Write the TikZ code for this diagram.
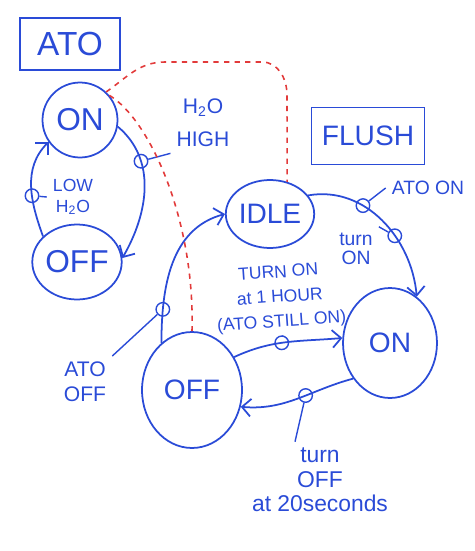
\documentclass[tikz,border=0pt]{standalone}
\usepackage{fontspec}
\setmainfont{Liberation Sans}
\usetikzlibrary{shapes.geometric,arrows.meta}
\definecolor{azulTinta}{HTML}{2A4BD7}
\definecolor{rojoGuia}{HTML}{E23A3A}

\begin{document}
\begin{tikzpicture}[x=0.02cm,y=-0.02cm,
    estado/.style={draw=azulTinta,ellipse,line width=1pt,text=azulTinta,inner sep=0pt,font=\fontsize{16}{18}\selectfont},
    titulo/.style={draw=azulTinta,line width=1pt,text=azulTinta},
    etiqueta/.style={text=azulTinta,align=center,font=\fontsize{12}{14}\selectfont},
    marca/.style={draw=azulTinta,circle,line width=0.8pt,minimum size=0.27cm,inner sep=0pt},
    flecha/.style={draw=azulTinta,line width=1pt,-{Straight Barb[length=5pt,width=10pt]}},
    enlace/.style={draw=azulTinta,line width=0.8pt},
    guia/.style={draw=rojoGuia,dashed,line width=0.9pt}]
    \useasboundingbox (0,0) rectangle (474,551);

    % ATO
    \node[titulo,minimum width=2cm,minimum height=1.04cm,font=\fontsize{19}{20}\selectfont] (atoTit) at (70,44) {ATO};
    \node[estado,minimum width=1.5cm,minimum height=1.5cm,font=\fontsize{18}{20}\selectfont] (atoOn) at (80,120) {ON};
    \node[estado,minimum width=1.76cm,minimum height=1.5cm,font=\fontsize{18}{20}\selectfont] (atoOff) at (77,262) {OFF};
    \draw[flecha] (atoOn.-10) to[out=-40,in=60] node[marca,pos=0.3] (mHigh) {} (atoOff.5);
    \draw[flecha] (atoOff.143) to[out=110,in=225] node[marca,pos=0.4] (mLow) {} (atoOn.215);
    \node[etiqueta,font=\fontsize{12}{19}\selectfont] (lblHigh) at (203,123) {H\textsubscript{2}O\\HIGH};
    \node[etiqueta,font=\fontsize{10}{12}\selectfont] (lblLow) at (73,197) {LOW\\H\textsubscript{2}O};
    \draw[enlace] (mHigh) -- (lblHigh.south west);
    \draw[enlace] (mLow) -- (lblLow.west);

    % FLUSH
    \node[titulo,minimum width=2.26cm,minimum height=1.14cm,font=\fontsize{16}{18}\selectfont] (flushTit) at (368,136) {FLUSH};
    \node[estado,minimum width=1.4cm,minimum height=1.36cm] (idle) at (270,214) {IDLE};
    \node[estado,minimum width=2cm,minimum height=2.32cm] (flOff) at (192,390) {OFF};
    \node[estado,minimum width=1.88cm,minimum height=2.2cm] (flOn) at (390,343) {ON};
    \draw[flecha] (flOff.123) to[out=90,in=195] node[marca,pos=0.2] (mAtoOff) {} (idle.180);
    \draw[flecha] (idle.26) to[out=10,in=95] node[marca,pos=0.35] (mAtoOn) {} node[marca,pos=0.62] (mTurnOn) {} (flOn.60);
    \draw[flecha] (flOff.38) to[out=25,in=185] node[marca,pos=0.45] (mHour) {} (flOn.174);
    \draw[flecha] (flOn.224) to[out=195,in=-5] node[marca,pos=0.42] (mSec) {} (flOff.-19);

    \node[etiqueta] (lblAtoOff) at (85,382) {ATO\\OFF};
    \node[etiqueta,font=\fontsize{11}{12}\selectfont] (lblAtoOn) at (428,188) {ATO ON};
    \node[etiqueta,font=\fontsize{11}{11}\selectfont] (lblTurnOn) at (356,249) {turn\\ON};
    \node[etiqueta,font=\fontsize{10}{14}\selectfont,rotate=4] (lblHour) at (280,298) {TURN ON\\at 1 HOUR\\(ATO STILL ON)};
    \node[etiqueta,font=\fontsize{13}{14}\selectfont] (lblSec) at (320,480) {turn\\OFF\\at 20seconds};
    \draw[enlace] (mAtoOff) -- (lblAtoOff.north east);
    \draw[enlace] (mAtoOn) -- (lblAtoOn.west);
    \draw[enlace] (mTurnOn) -- (lblTurnOn.north east);
    \draw[enlace] (mHour) -- (lblHour.south);
    \draw[enlace] (mSec) -- ([xshift=-0.5cm]lblSec.north);

    % ATO ON -> FLUSH
    \draw[guia] (atoOn.47) to[out=35,in=180] (165,62) -- (262,62) to[out=0,in=90] (287,95) -- (idle.62);
    \draw[guia] (atoOn.40) .. controls (150,120) and (195,220) .. (flOff.north);
\end{tikzpicture}
\end{document}
